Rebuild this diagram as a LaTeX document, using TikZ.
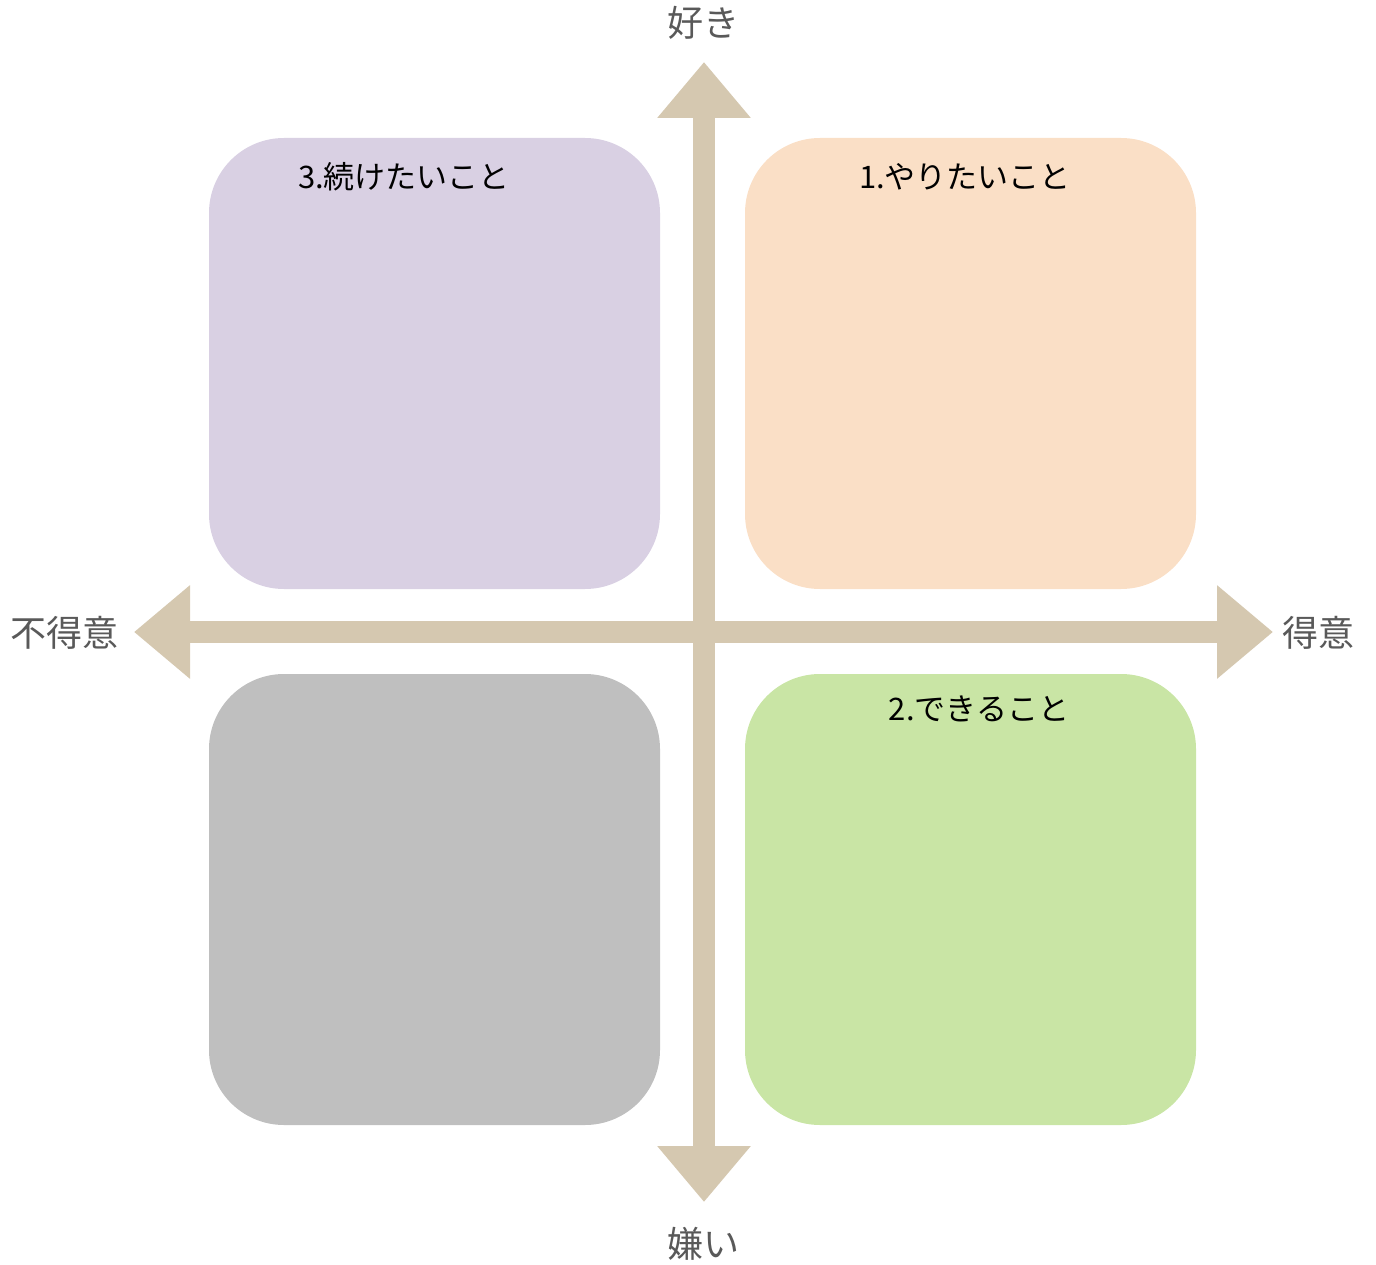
\documentclass[tikz,border=0pt]{standalone}
\usepackage{fontspec}
\newfontfamily\jp{Noto Sans CJK JP}
\usetikzlibrary{arrows.meta}
\definecolor{axiscol}{HTML}{D5C8B0}
\definecolor{purplebox}{HTML}{D9D0E3}
\definecolor{peachbox}{HTML}{FADFC6}
\definecolor{greybox}{HTML}{BFBFBF}
\definecolor{greenbox}{HTML}{C9E5A5}
\definecolor{axistext}{HTML}{595959}
\tikzset{
  quad/.style={rounded corners=75pt, draw=none},
  axisline/.style={draw=axiscol, line width=22pt, -{Triangle[length=56pt,width=90pt]}},
  axislabel/.style={font=\jp\fontsize{36}{42}\selectfont, text=axistext, inner sep=0pt},
  boxlabel/.style={font=\jp\fontsize{31}{36}\selectfont, text=black, inner sep=0pt}
}
\begin{document}
\begin{tikzpicture}[x=1pt,y=-1pt]
\useasboundingbox (0,0) rectangle (1376,1265);
% boxes
\fill[quad, purplebox] (209,138) rectangle (660,589);
\fill[quad, peachbox] (745,138) rectangle (1196,589);
\fill[quad, greybox] (209,674) rectangle (660,1125);
\fill[quad, greenbox] (745,674) rectangle (1196,1125);
% axes
\coordinate (c) at (704,632);
\coordinate (up) at (704,62);
\coordinate (down) at (704,1202);
\coordinate (left) at (134,632);
\coordinate (right) at (1273,632);
\draw[axisline] (c) -- (up);
\draw[axisline] (c) -- (down);
\draw[axisline] (c) -- (left);
\draw[axisline] (c) -- (right);
% axis labels
\node[axislabel] (like) at (703,23) {好き};
\node[axislabel] (dislike) at (703,1244) {嫌い};
\node[axislabel] (weak) at (64,633) {不得意};
\node[axislabel] (strong) at (1318,633) {得意};
% box labels
\node[boxlabel] (l3) at (404,177) {3.続けたいこと};
\node[boxlabel] (l1) at (965,177) {1.やりたいこと};
\node[boxlabel] (l2) at (979,709) {2.できること};
\end{tikzpicture}
\end{document}
